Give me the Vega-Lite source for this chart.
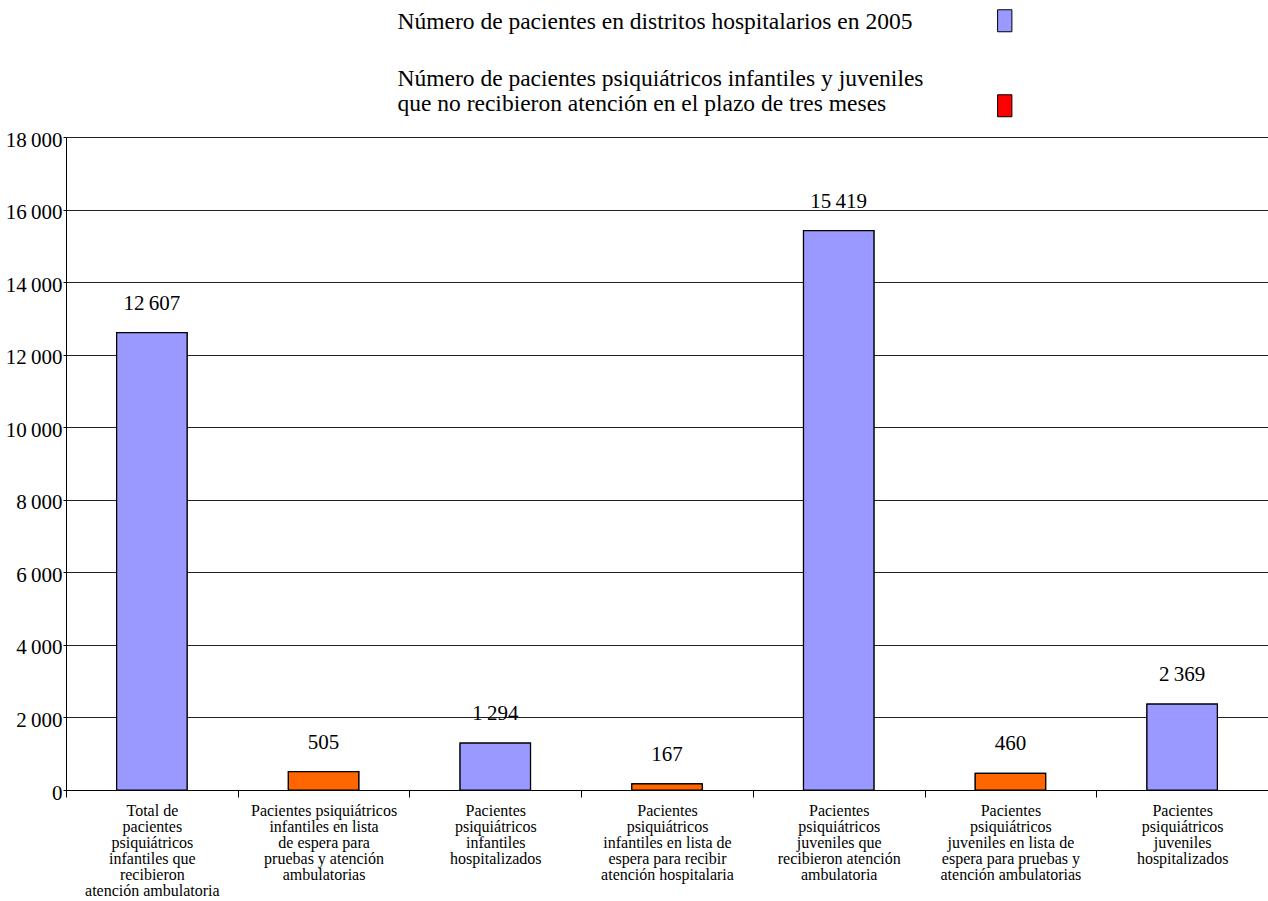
{
  "$schema": "https://vega.github.io/schema/vega-lite/v6.json",
  "width": 1202,
  "height": 653,
  "autosize": {"type": "none"},
  "padding": {"left": 66, "top": 137, "right": 0, "bottom": 111},
  "background": "white",
  "config": {
    "locale": {"number": {"decimal": ",", "thousands": "\u2009", "grouping": [3], "currency": ["", " €"]}},
    "view": {"stroke": null},
    "font": "Liberation Serif"
  },
  "data": {
    "values": [
      {"categoria": "Total de|pacientes|psiquiátricos|infantiles que|recibieron|atención ambulatoria", "valor": 12607, "serie": "Número de pacientes en distritos hospitalarios en 2005"},
      {"categoria": "Pacientes psiquiátricos|infantiles en lista|de espera para|pruebas y atención|ambulatorias", "valor": 505, "serie": "Número de pacientes psiquiátricos infantiles y juveniles|que no recibieron atención en el plazo de tres meses"},
      {"categoria": "Pacientes|psiquiátricos|infantiles|hospitalizados", "valor": 1294, "serie": "Número de pacientes en distritos hospitalarios en 2005"},
      {"categoria": "Pacientes|psiquiátricos|infantiles en lista de|espera para recibir|atención hospitalaria", "valor": 167, "serie": "Número de pacientes psiquiátricos infantiles y juveniles|que no recibieron atención en el plazo de tres meses"},
      {"categoria": "Pacientes|psiquiátricos|juveniles que|recibieron atención|ambulatoria", "valor": 15419, "serie": "Número de pacientes en distritos hospitalarios en 2005"},
      {"categoria": "Pacientes|psiquiátricos|juveniles en lista de|espera para pruebas y|atención ambulatorias", "valor": 460, "serie": "Número de pacientes psiquiátricos infantiles y juveniles|que no recibieron atención en el plazo de tres meses"},
      {"categoria": "Pacientes|psiquiátricos|juveniles|hospitalizados", "valor": 2369, "serie": "Número de pacientes en distritos hospitalarios en 2005"}
    ]
  },
  "encoding": {
    "x": {
      "field": "categoria",
      "type": "nominal",
      "sort": null,
      "scale": {"paddingInner": 0, "paddingOuter": 0},
      "axis": {
        "title": null,
        "labelAngle": 0,
        "labelExpr": "split(datum.label, '|')",
        "labelFont": "Liberation Serif",
        "labelFontSize": 16,
        "labelLineHeight": 16,
        "labelBaseline": "top",
        "labelColor": "black",
        "labelPadding": 5,
        "labelLimit": 0,
        "labelOverlap": false,
        "tickSize": 7,
        "tickColor": "black",
        "tickBand": "extent",
        "domainColor": "black",
        "domainWidth": 1
      }
    },
    "y": {
      "field": "valor",
      "type": "quantitative",
      "scale": {"domain": [0, 18000], "nice": false},
      "axis": {
        "title": null,
        "values": [0, 2000, 4000, 6000, 8000, 10000, 12000, 14000, 16000, 18000],
        "format": ",d",
        "grid": true,
        "gridColor": "#222222",
        "gridWidth": 1,
        "gridOpacity": 1,
        "domainColor": "black",
        "tickColor": "black",
        "tickSize": 3,
        "labelFont": "Liberation Serif",
        "labelFontSize": 21,
        "labelColor": "black",
        "labelPadding": 1,
        "labelBaseline": "middle",
        "labelOffset": 3
      }
    }
  },
  "layer": [
    {
      "mark": {"type": "bar", "width": {"band": 0.41}, "stroke": "black", "strokeWidth": 1.2},
      "encoding": {
        "color": {
          "field": "serie",
          "type": "nominal",
          "scale": {
            "domain": ["Número de pacientes en distritos hospitalarios en 2005", "Número de pacientes psiquiátricos infantiles y juveniles|que no recibieron atención en el plazo de tres meses"],
            "range": ["#9999FF", "#FF0000"]
          },
          "legend": {
            "orient": "none",
            "legendX": 927,
            "legendY": -128,
            "title": null,
            "direction": "vertical",
            "padding": 0,
            "labelExpr": "split(datum.label, '|')",
            "labelFont": "Liberation Serif",
            "labelFontSize": 23.5,
            "labelLineHeight": 24,
            "labelColor": "black",
            "labelLimit": 0,
            "labelAlign": "left",
            "labelBaseline": "bottom",
            "labelOffset": -619,
            "symbolType": "M-0.65,-1H0.65V1H-0.65Z",
            "symbolSize": 484,
            "symbolStrokeColor": "black",
            "symbolStrokeWidth": 1,
            "symbolOpacity": 1,
            "rowPadding": 32,
            "encode": {
              "labels": {"update": {"dy": [{"test": "indexof(datum.value, 'tres meses') >= 0", "value": -15}, {"value": 13}]}}
            }
          }
        }
      }
    },
    {
      "mark": {"type": "bar", "width": {"band": 0.41}, "stroke": "black", "strokeWidth": 1.2},
      "encoding": {
        "fill": {
          "field": "serie",
          "type": "nominal",
          "scale": {
            "domain": ["Número de pacientes en distritos hospitalarios en 2005", "Número de pacientes psiquiátricos infantiles y juveniles|que no recibieron atención en el plazo de tres meses"],
            "range": ["#9999FF", "#FF6600"]
          },
          "legend": null
        }
      }
    },
    {
      "mark": {"type": "text", "baseline": "alphabetic", "dy": -23, "fontSize": 21, "font": "Liberation Serif", "color": "black"},
      "encoding": {
        "text": {"field": "valor", "type": "quantitative", "format": ",d"}
      }
    }
  ]
}
